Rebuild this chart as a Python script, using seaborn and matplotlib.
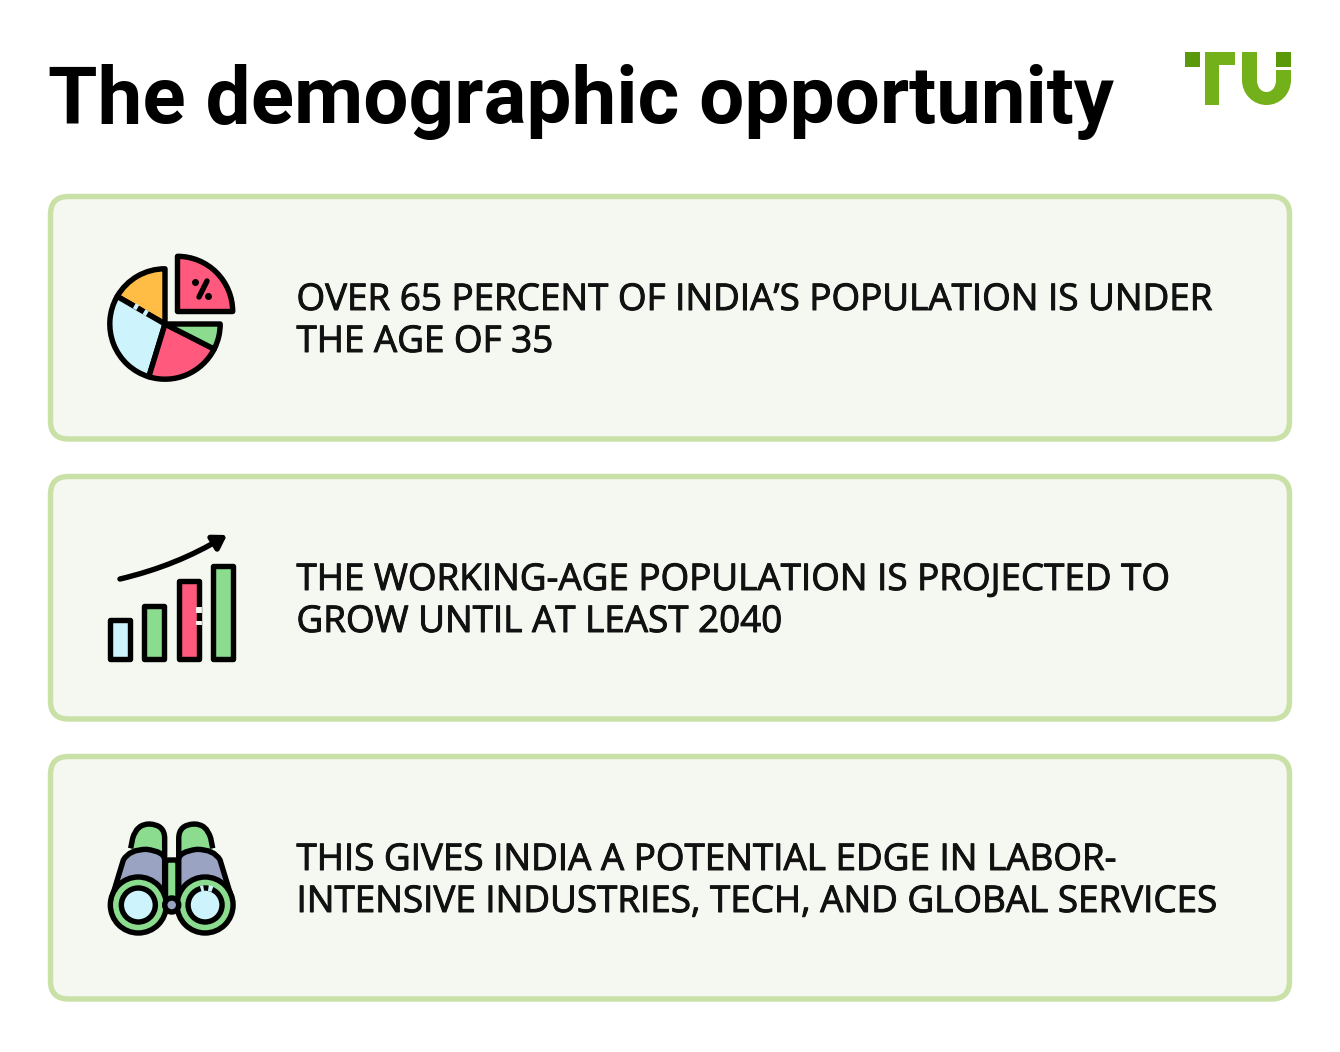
#!/usr/bin/env python3
"""The demographic opportunity card graphic."""

import matplotlib.patheffects as pe
import matplotlib.pyplot as plt
import seaborn as sns
from matplotlib.patches import Circle, FancyArrowPatch, FancyBboxPatch, PathPatch, Rectangle, Arc
from matplotlib.path import Path

TITLE = "The demographic opportunity"
CARD_LINES = [
    ["OVER 65 PERCENT OF INDIA’S POPULATION IS UNDER", "THE AGE OF 35"],
    ["THE WORKING-AGE POPULATION IS PROJECTED TO", "GROW UNTIL AT LEAST 2040"],
    ["THIS GIVES INDIA A POTENTIAL EDGE IN LABOR-", "INTENSIVE INDUSTRIES, TECH, AND GLOBAL SERVICES"],
]
CARD_TOPS = [196.5, 476.5, 756.5]

PIE_SHARES = [90, 60, 103, 80, 27]
BAR_LABELS = ["a", "b", "c", "d"]
BAR_HEIGHTS = [39, 53, 78, 93]

W, H = 1340, 1052
INK = "black"
ORANGE = "#ffbd45"
SKY = "#cdf4fd"
PINK = "#ff5a7e"
GREEN = "#8bdc8f"
GRAY = "#9aa3c2"
CARD_FILL = "#f5f8f0"
CARD_EDGE = "#c9e1a6"
LOGO = "#74b01a"
LOGO_DARK = "#5a9a0a"
STROKE = 3.9


def pixel_axes(fig, left, top, right, bottom):
    return fig.add_axes([left / W, 1 - bottom / H, (right - left) / W, (bottom - top) / H])


def curve_patch(points, codes, **kw):
    return PathPatch(Path(points, codes), **kw)


def draw_logo(ax):
    ax.add_patch(Rectangle((1185, 52), 15, 15, color=LOGO_DARK, lw=0))
    ax.add_patch(Rectangle((1205, 52), 30, 13, color=LOGO, lw=0))
    ax.add_patch(Rectangle((1205, 52), 14, 53, color=LOGO, lw=0))
    ax.add_patch(Rectangle((1276, 52), 15, 15, color=LOGO_DARK, lw=0))
    M, L, C = Path.MOVETO, Path.LINETO, Path.CURVE4
    pts = [(1242, 52), (1242, 80), (1242, 94), (1253, 105), (1266.5, 105),
           (1280, 105), (1291, 94), (1291, 80), (1291, 70), (1276, 70), (1276, 80),
           (1276, 87), (1272, 92), (1266.5, 92), (1261, 92), (1257, 87), (1257, 80),
           (1257, 52), (1242, 52)]
    codes = [M, L, C, C, C, C, C, C, L, L, L, C, C, C, C, C, C, L, L]
    ax.add_patch(curve_patch(pts, codes, facecolor=LOGO, edgecolor="none"))


def draw_pie(fig):
    ax = pixel_axes(fig, 96, 255, 234, 393)
    ax.pie(
        PIE_SHARES,
        colors=[PINK, ORANGE, SKY, PINK, GREEN],
        explode=[0.32, 0, 0, 0, 0],
        startangle=0,
        wedgeprops={"edgecolor": INK, "linewidth": STROKE, "joinstyle": "round", "clip_on": False},
    )
    ax.patch.set_visible(False)


def draw_bars(fig):
    ax = pixel_axes(fig, 103, 559, 240, 659)
    sns.barplot(
        x=BAR_LABELS,
        y=BAR_HEIGHTS,
        hue=BAR_LABELS,
        palette=[SKY, GREEN, PINK, GREEN],
        saturation=1,
        width=0.59,
        edgecolor=INK,
        linewidth=STROKE,
        legend=False,
        ax=ax,
    )
    ax.set_xlim(-0.5, 3.5)
    ax.set_ylim(0, 100)
    ax.axis("off")
    for bar in ax.patches:
        bar.set_clip_on(False)
        bar.set_joinstyle("round")


def draw_binocular_side(ax, flip):
    def px(x, y):
        # zoomed crop coordinates to page pixels, mirrored about the hinge
        xx = 90 + x / 3
        if flip:
            xx = 2 * 171.7 - xx
        return (xx, 810 + y / 3)

    M, L, Q = Path.MOVETO, Path.LINETO, Path.CURVE3
    line = dict(edgecolor=INK, linewidth=STROKE, joinstyle="round")
    cup = [(122, 115), (128, 85), (140, 42), (178, 42), (224, 44), (224, 85), (224, 140), (122, 140)]
    ax.add_patch(curve_patch([px(*p) for p in cup], [M, L, Q, Q, Q, Q, L, L], facecolor=GREEN, **line))
    body = [(62, 275), (100, 150), (118, 118), (170, 118), (224, 125), (224, 150), (224, 285), (90, 285)]
    ax.add_patch(curve_patch([px(*p) for p in body], [M, L, Q, Q, Q, Q, L, L], facecolor=GRAY, **line))
    centre = px(145, 285)
    ax.add_patch(Circle(centre, 28, facecolor=GREEN, **line))
    ax.add_patch(Circle(centre, 17, facecolor=SKY, **line))


def draw_binoculars(ax):
    line = dict(edgecolor=INK, linewidth=STROKE)
    ax.add_patch(FancyBboxPatch((165.5, 860), 12.5, 42, boxstyle="round,pad=0,rounding_size=3", facecolor=GREEN, **line))
    draw_binocular_side(ax, False)
    draw_binocular_side(ax, True)
    ax.add_patch(Circle((171.7, 905), 7, facecolor=GRAY, **line))


def draw_details(ax):
    # percent sign on the lifted slice
    ax.plot([199, 207], [297, 281], color=INK, lw=STROKE, solid_capstyle="round")
    ax.plot([195, 208], [282, 296], ls="none", marker="o", ms=4, color=INK)
    # broken outlines in the icons
    for seg in [((134.3, 305.7), (137.7, 307.7)), ((144, 311.7), (147.3, 313.7))]:
        ax.plot(*zip(*seg), color=SKY, lw=STROKE + 0.3, solid_capstyle="butt")
    for seg in [((199, 607), (199, 613)), ((199, 621), (199, 625))]:
        ax.plot(*zip(*seg), color=CARD_FILL, lw=STROKE + 0.3, solid_capstyle="butt")
    ax.add_patch(Arc((206, 905), 34, 34, theta1=-82, theta2=-68, color=SKY, lw=STROKE + 0.3))
    ax.add_patch(Arc((206, 905), 34, 34, theta1=-108, theta2=-98, color=SKY, lw=STROKE + 0.3))
    ax.add_patch(FancyArrowPatch(
        (120, 579), (227, 535),
        connectionstyle="arc3,rad=0.08",
        arrowstyle="-|>,head_length=0.55,head_width=0.35",
        mutation_scale=14,
        color=INK,
        lw=STROKE,
        capstyle="round",
        shrinkA=0,
        shrinkB=0,
    ))


def main():
    sns.set_theme(style="white")
    plt.rcParams["font.family"] = ["Open Sans", "DejaVu Sans"]

    fig = plt.figure(figsize=(W / 100, H / 100), dpi=100, facecolor="white")
    ax = fig.add_axes([0, 0, 1, 1])
    ax.set_xlim(0, W)
    ax.set_ylim(H, 0)
    ax.axis("off")

    ax.text(48, 123, TITLE, family="Roboto", weight="bold", fontsize=57.6, color=INK, ha="left", va="baseline")
    draw_logo(ax)

    for top, lines in zip(CARD_TOPS, CARD_LINES):
        ax.add_patch(FancyBboxPatch(
            (50.5, top), 1239, 242.5,
            boxstyle="round,pad=0,rounding_size=18",
            facecolor=CARD_FILL,
            edgecolor=CARD_EDGE,
            linewidth=3.9,
        ))
        for i, text in enumerate(lines):
            t = ax.text(296.5, top + 113.5 + 42 * i, text, family="Open Sans", fontsize=26.5,
                        color="#111111", ha="left", va="baseline")
            # the installed face has no medium weight, thicken it a little
            t.set_path_effects([pe.withStroke(linewidth=0.7, foreground="#111111")])

    draw_pie(fig)
    draw_bars(fig)

    top = fig.add_axes([0, 0, 1, 1])
    top.set_xlim(0, W)
    top.set_ylim(H, 0)
    top.axis("off")
    draw_binoculars(top)
    draw_details(top)

    fig.savefig("out.png", dpi=100, facecolor="white")
    plt.close(fig)


if __name__ == "__main__":
    main()
